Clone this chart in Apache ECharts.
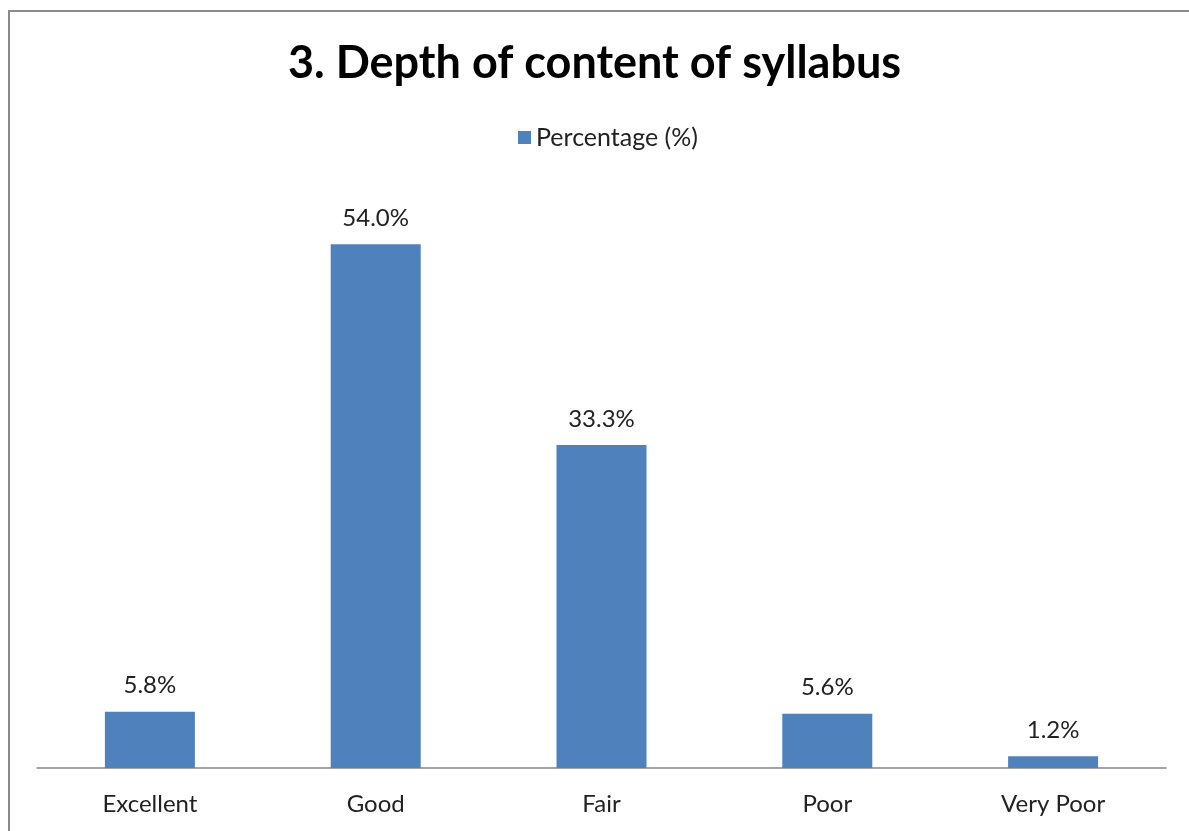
<!DOCTYPE html>
<html>
<head>
<meta charset="utf-8">
<script src="https://cdn.jsdelivr.net/npm/echarts@6/dist/echarts.min.js"></script>
<style>
html, body { margin: 0; padding: 0; background: #fff; }
#main { width: 1189px; height: 831px; }
</style>
</head>
<body>
<div id="main"></div>
<script>
var categories = ['Excellent', 'Good', 'Fair', 'Poor', 'Very Poor'];
var percentages = [5.8, 54.0, 33.3, 5.6, 1.2];

var myChart = echarts.init(document.getElementById('main'));

var option = {
	backgroundColor: '#fff',
	textStyle: { fontFamily: 'Lato, "Open Sans", sans-serif' },
	// outer chart border
	graphic: [{
		type: 'rect',
		shape: { x: 9, y: 11, width: 1200, height: 900 },
		style: { fill: 'none', stroke: '#8a8a8a', lineWidth: 2 }
	}],
	title: {
		text: '3. Depth of content of syllabus',
		left: 'center',
		top: 36,
		textStyle: { fontSize: 45, fontWeight: 'bold', color: '#000', fontFamily: 'Lato, sans-serif' }
	},
	legend: {
		data: ['Percentage (%)'],
		top: 120,
		left: 513,
		itemWidth: 13,
		itemHeight: 13,
		itemGap: 8,
		icon: 'rect',
		textStyle: { fontSize: 25, color: '#222' }
	},
	grid: { left: 37, right: 23, top: 186, bottom: 63 },
	xAxis: {
		type: 'category',
		data: categories,
		axisLine: { lineStyle: { color: '#868686', width: 1.5 } },
		axisTick: { show: false },
		axisLabel: { fontSize: 24, color: '#222', margin: 24 }
	},
	yAxis: {
		type: 'value',
		min: 0,
		max: 60,
		show: false
	},
	series: [{
		name: 'Percentage (%)',
		type: 'bar',
		data: percentages,
		barWidth: 90,
		itemStyle: { color: '#4F81BD' },
		label: {
			show: true,
			position: 'top',
			distance: 14,
			fontSize: 24,
			color: '#222',
			formatter: function(p) { return p.value.toFixed(1) + '%'; }
		}
	}]
};

myChart.setOption(option);
</script>
</body>
</html>
